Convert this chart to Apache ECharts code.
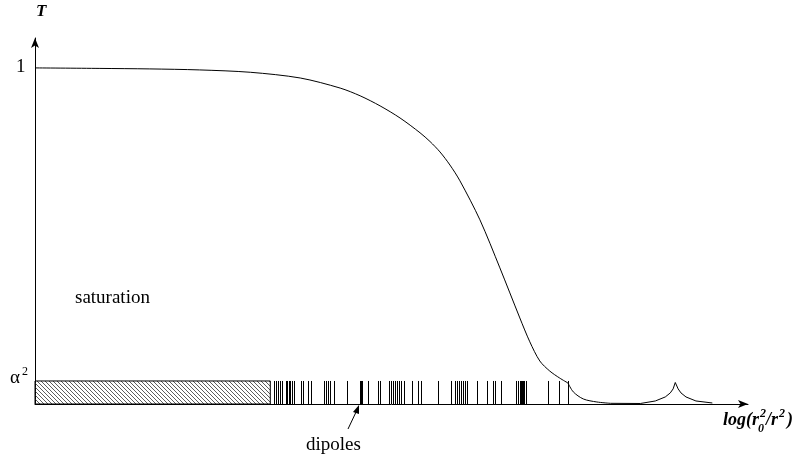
<!DOCTYPE html>
<html>
<head>
<meta charset="utf-8">
<script src="https://cdn.jsdelivr.net/npm/echarts@6/dist/echarts.min.js"></script>
<style>html,body{margin:0;padding:0;background:#fff}#c{width:799px;height:457px}</style>
</head>
<body>
<div id="c"></div>
<script>
// ---- data ----
const alpha2 = 0.0685;           // alpha^2 level
const saturationEnd = 3.30;      // end of hatched saturation region
const curveX = [0, 0.91, 1.61, 2.31, 3.02, 3.72, 4.28, 4.56, 4.84, 5.12, 5.40, 5.54, 5.68, 5.82, 5.96, 6.24, 6.52, 6.80, 6.94, 7.08, 7.22, 7.36, 7.475];
const curveY = [1.0, 0.9985, 0.997, 0.994, 0.987, 0.970, 0.940, 0.917, 0.887, 0.851, 0.807, 0.781, 0.750, 0.711, 0.664, 0.548, 0.405, 0.256, 0.185, 0.128, 0.098, 0.077, 0.0625];
const tailX = [7.475, 7.55, 7.69, 7.88, 8.07];
const tailY = [0.0625, 0.036, 0.015, 0.006, 0.002];
const peakX = [8.07, 8.49, 8.70, 8.84, 8.91, 8.95, 8.98, 9.02, 9.06, 9.13, 9.27, 9.50];
const peakY = [0.002, 0.0015, 0.009, 0.021, 0.033, 0.045, 0.064, 0.045, 0.033, 0.021, 0.009, 0.003];
const dipoleX = [3.35, 3.38, 3.41, 3.44, 3.46, 3.52, 3.53, 3.56, 3.58, 3.60, 3.63, 3.73, 3.76, 3.83, 3.87,
  4.05, 4.08, 4.11, 4.14, 4.19, 4.38, 4.56, 4.57, 4.59, 4.67, 4.81, 4.84, 4.96, 4.99, 5.02, 5.05, 5.08,
  5.11, 5.13, 5.18, 5.29, 5.37, 5.41, 5.65, 5.83, 5.89, 5.92, 5.95, 5.97, 6.00, 6.03, 6.06, 6.20, 6.34,
  6.42, 6.45, 6.54, 6.75, 6.77, 6.80, 6.82, 6.83, 6.84, 6.86, 6.89, 7.19, 7.35, 7.48];

// hatch pattern
const pc = document.createElement('canvas');
pc.width = 4; pc.height = 4;
const g = pc.getContext('2d');
g.strokeStyle = '#333'; g.lineWidth = 0.8;
g.beginPath();
g.moveTo(-1, -1); g.lineTo(5, 5);
g.moveTo(-1, 3); g.lineTo(1, 5);
g.moveTo(3, -1); g.lineTo(5, 1);
g.stroke();

const serif = '"Liberation Serif", "DejaVu Serif", serif';
const mc = document.createElement('canvas').getContext('2d');
function tw(t, f) { mc.font = f; return mc.measureText(t).width; }

// x-axis title pieces: log(r_0^2/r^2)
const fMain = 'italic bold 18px ' + serif;
const fSmall = 'italic bold 12px ' + serif;
const lx = 723, ly = 411;
const w1 = tw('log(r', fMain);
const wS = Math.max(tw('2', fSmall), tw('0', fSmall)) + 1;
const w2 = tw('/r', fMain);
const w3 = tw('2', fSmall) + 1;
const xTitle = [
  {type: 'text', left: lx, top: ly, style: {text: 'log(r', font: fMain, fill: '#000'}},
  {type: 'text', left: lx + w1 + 1, top: ly - 3, style: {text: '2', font: fSmall, fill: '#000'}},
  {type: 'text', left: lx + w1 - 1, top: ly + 12, style: {text: '0', font: fSmall, fill: '#000'}},
  {type: 'text', left: lx + w1 + wS, top: ly, style: {text: '/r', font: fMain, fill: '#000'}},
  {type: 'text', left: lx + w1 + wS + w2 + 1, top: ly - 3, style: {text: '2', font: fSmall, fill: '#000'}},
  {type: 'text', left: lx + w1 + wS + w2 + w3 + 2, top: ly, style: {text: ')', font: fMain, fill: '#000'}}
];

const chart = echarts.init(document.getElementById('c'), null, {renderer: 'canvas'});
const lineSeries = (xs, ys, smooth) => ({
  type: 'line',
  data: xs.map((x, i) => [x, ys[i]]),
  smooth: smooth, showSymbol: false,
  lineStyle: {color: '#000', width: 1}, z: 3
});

chart.setOption({
  animation: false,
  backgroundColor: '#fff',
  grid: {left: 35, right: 51, top: 38, bottom: 53},
  xAxis: {
    type: 'value', min: 0, max: 10,
    axisLine: {show: true, lineStyle: {color: '#000', width: 1}, symbol: ['none', 'arrow'], symbolSize: [6, 10]},
    axisTick: {show: false}, axisLabel: {show: false}, splitLine: {show: false}
  },
  yAxis: {
    type: 'value', min: 0, max: 1.089,
    axisLine: {show: true, onZero: false, lineStyle: {color: '#000', width: 1}, symbol: ['none', 'arrow'], symbolSize: [6, 10]},
    axisTick: {show: false}, axisLabel: {show: false}, splitLine: {show: false}
  },
  series: [
    {
      type: 'custom',
      data: [[0, saturationEnd, alpha2]],
      renderItem: function (params, api) {
        const p0 = api.coord([api.value(0), 0]);
        const p1 = api.coord([api.value(1), api.value(2)]);
        return {
          type: 'rect',
          shape: {x: p0[0], y: p1[1], width: p1[0] - p0[0], height: p0[1] - p1[1]},
          style: {fill: {image: pc, repeat: 'repeat'}, stroke: '#000', lineWidth: 1}
        };
      },
      silent: true, z: 1
    },
    {
      type: 'custom',
      data: dipoleX.map(x => [x, alpha2]),
      renderItem: function (params, api) {
        const p0 = api.coord([api.value(0), 0]);
        const p1 = api.coord([api.value(0), api.value(1)]);
        const xx = Math.round(p0[0]) + 0.5;
        return {
          type: 'line',
          shape: {x1: xx, y1: p0[1], x2: xx, y2: p1[1]},
          style: {stroke: '#000', lineWidth: 1}
        };
      },
      silent: true, z: 2
    },
    lineSeries(curveX, curveY, 0.3),
    lineSeries(tailX, tailY, 0.3),
    lineSeries(peakX, peakY, false)
  ],
  graphic: [
    {type: 'text', left: 36, top: 3, style: {text: 'T', font: 'italic bold 17px ' + serif, fill: '#000'}},
    {type: 'text', left: 16, top: 58, style: {text: '1', font: '19px ' + serif, fill: '#000'}},
    {type: 'text', left: 10, top: 369, style: {text: 'α', font: '19px ' + serif, fill: '#000'}},
    {type: 'text', left: 22, top: 366, style: {text: '2', font: '12px ' + serif, fill: '#000'}},
    {type: 'text', left: 75, top: 289, style: {text: 'saturation', font: '19px ' + serif, fill: '#000'}},
    {type: 'text', left: 306, top: 436, style: {text: 'dipoles', font: '19px ' + serif, fill: '#000'}},
    {type: 'line', shape: {x1: 348, y1: 429, x2: 357, y2: 410}, style: {stroke: '#000', lineWidth: 1}},
    {type: 'polygon', shape: {points: [[359, 405], [353, 412], [359, 414]]}, style: {fill: '#000'}}
  ].concat(xTitle)
});
</script>
</body>
</html>
